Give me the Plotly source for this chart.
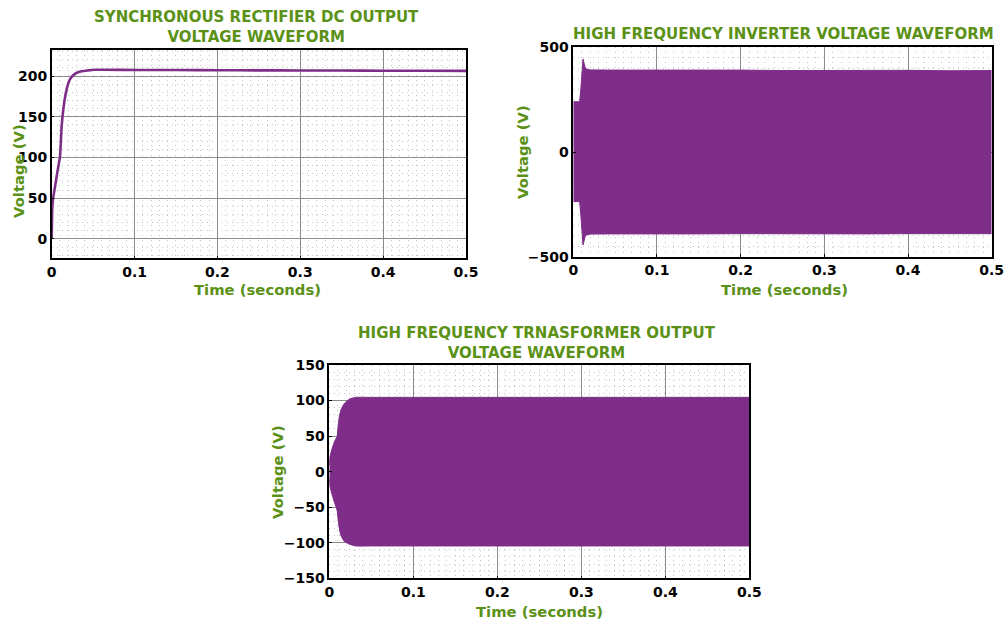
import plotly.graph_objects as go

# ---------------- data ----------------
# Synchronous rectifier DC output voltage
rect_t = [0, 0.0008, 0.002, 0.004, 0.006, 0.008, 0.010, 0.012, 0.014, 0.017, 0.020,
          0.022, 0.026, 0.030, 0.036, 0.044, 0.052, 0.1, 0.15, 0.2, 0.25, 0.3, 0.35, 0.4, 0.45, 0.5]
rect_v = [0, 40, 52, 64, 77, 89, 101, 138, 159, 179, 191,
          196, 201, 204, 206, 207, 207.7, 207.5, 207.4, 207.2, 207, 206.9, 206.8, 206.6, 206.5, 206.4]

# High frequency inverter voltage: envelope of the switching waveform
inv_t = [0, 0.0076, 0.0090, 0.0105, 0.0116, 0.0125, 0.0140, 0.0156, 0.020, 0.05,
         0.1, 0.15, 0.2, 0.25, 0.3, 0.35, 0.4, 0.45, 0.5]
inv_upper = [240, 240, 300, 400, 444, 430, 405, 396, 392, 391,
             392, 390, 391, 389, 390, 389, 390, 388, 389]
inv_lower = [-237, -237, -300, -400, -444, -430, -405, -396, -392, -391,
             -392, -391, -390, -391, -390, -391, -390, -391, -390]

# High frequency transformer output voltage: envelope
tr_t = [0, 0.0008, 0.004, 0.0072, 0.0092, 0.0104, 0.0119, 0.0139, 0.0179, 0.0238,
        0.0318, 0.05, 0.1, 0.2, 0.3, 0.4, 0.5]
tr_upper = [10, 21, 35, 45, 49, 63, 77, 87, 96, 102,
            104.5, 104.5, 104.5, 104.5, 104.5, 104.5, 104.5]
tr_lower = [-10, -21, -35, -47, -54, -66, -80, -90, -98, -102,
            -104.5, -104.5, -104.5, -104.5, -104.5, -104.5, -104.5]

x_ticks = [0, 0.1, 0.2, 0.3, 0.4, 0.5]
x_tick_text = ["0", "0.1", "0.2", "0.3", "0.4", "0.5"]
rect_y_ticks = [0, 50, 100, 150, 200]
inv_y_ticks = [-500, 0, 500]
tr_y_ticks = [-150, -100, -50, 0, 50, 100, 150]

titles = ["SYNCHRONOUS RECTIFIER DC OUTPUT<br>VOLTAGE WAVEFORM",
          "HIGH FREQUENCY INVERTER VOLTAGE WAVEFORM",
          "HIGH FREQUENCY TRNASFORMER OUTPUT<br>VOLTAGE WAVEFORM"]
x_label = "Time (seconds)"
y_label = "Voltage (V)"

# ---------------- styling ----------------
W, H = 1007, 622
PURPLE = "#7e2d88"
GREEN = "#5a9116"
FONT = "DejaVu Sans"

fig = go.Figure()

# rectifier
fig.add_trace(go.Scatter(x=rect_t, y=rect_v, mode="lines",
                         line=dict(color=PURPLE, width=2.6, shape="spline", smoothing=0.6),
                         xaxis="x", yaxis="y", showlegend=False, hoverinfo="skip"))

# inverter envelope (filled between lower and upper)
fig.add_trace(go.Scatter(x=inv_t, y=inv_lower, mode="lines",
                         line=dict(color=PURPLE, width=1),
                         xaxis="x2", yaxis="y2", showlegend=False, hoverinfo="skip"))
fig.add_trace(go.Scatter(x=inv_t, y=inv_upper, mode="lines", fill="tonexty", fillcolor=PURPLE,
                         line=dict(color=PURPLE, width=1),
                         xaxis="x2", yaxis="y2", showlegend=False, hoverinfo="skip"))

# transformer envelope (filled between lower and upper)
fig.add_trace(go.Scatter(x=tr_t, y=tr_lower, mode="lines",
                         line=dict(color=PURPLE, width=1, shape="spline", smoothing=0.5),
                         xaxis="x3", yaxis="y3", showlegend=False, hoverinfo="skip"))
fig.add_trace(go.Scatter(x=tr_t, y=tr_upper, mode="lines", fill="tonexty", fillcolor=PURPLE,
                         line=dict(color=PURPLE, width=1, shape="spline", smoothing=0.5),
                         xaxis="x3", yaxis="y3", showlegend=False, hoverinfo="skip"))


def px_x(p):
    return p / W


def px_y(p):
    return 1 - p / H


tick_font = dict(family=FONT, size=14, color="black", weight="bold")
MINOR = dict(showgrid=True, gridcolor="#c4c4c4", griddash="1px,4px", gridwidth=1, ticks="")


def xaxis(domain, anchor):
    return dict(domain=domain, anchor=anchor, range=[0, 0.5], automargin=False,
                tickvals=x_ticks, ticktext=x_tick_text, tickfont=tick_font,
                showline=True, linecolor="black", linewidth=1.5, mirror=True,
                ticks="inside", ticklen=3, tickcolor="black",
                showgrid=True, gridcolor="#8c8c8c", gridwidth=1,
                zeroline=False,
                minor=dict(dtick=0.01, **MINOR),
                fixedrange=True)


def yaxis(domain, anchor, rng, ticks, minor_dtick, grid=True):
    return dict(domain=domain, anchor=anchor, range=rng, automargin=False,
                tickvals=ticks, tickfont=tick_font,
                showline=True, linecolor="black", linewidth=1.5, mirror=True,
                ticks="inside", ticklen=3, tickcolor="black",
                showgrid=grid, gridcolor="#8c8c8c", gridwidth=1,
                zeroline=False,
                minor=dict(dtick=minor_dtick, **MINOR),
                fixedrange=True)


fig.update_layout(
    template="none",
    width=W, height=H, autosize=False,
    margin=dict(l=0, r=0, t=0, b=0, pad=0),
    paper_bgcolor="white", plot_bgcolor="white",
    xaxis=xaxis([px_x(51.7), px_x(466)], "y"),
    yaxis=yaxis([px_y(258.3), px_y(50)], "x", [-23.7, 232], rect_y_ticks, 10),
    xaxis2=xaxis([px_x(573.3), px_x(991.7)], "y2"),
    yaxis2=yaxis([px_y(256.7), px_y(47.3)], "x2", [-500, 500], inv_y_ticks, 50),
    xaxis3=xaxis([px_x(329.3), px_x(749.3)], "y3"),
    yaxis3=yaxis([px_y(578.3), px_y(365)], "x3", [-150, 150], tr_y_ticks, 10),
)

title_font = dict(family=FONT, size=15, color=GREEN, weight="bold")
label_font = dict(family=FONT, size=14.8, color=GREEN, weight="bold")

anns = [
    (titles[0], 256, 27, 0, title_font),
    (titles[1], 783, 34, 0, title_font),
    (titles[2], 537, 342.5, 0, title_font),
    (x_label, 257, 289, 0, label_font),
    (x_label, 784, 289, 0, label_font),
    (x_label, 539, 611, 0, label_font),
    (y_label, 18, 171, -90, label_font),
    (y_label, 522, 152, -90, label_font),
    (y_label, 277, 472, -90, label_font),
]
for text, x, y, ang, f in anns:
    fig.add_annotation(text=text, x=px_x(x), y=px_y(y), xref="paper", yref="paper",
                       xanchor="center", yanchor="middle", showarrow=False,
                       textangle=ang, font=f, align="center")

fig.write_html("out.html",
               post_script="document.body.style.margin='0';document.body.style.overflow='hidden';")
